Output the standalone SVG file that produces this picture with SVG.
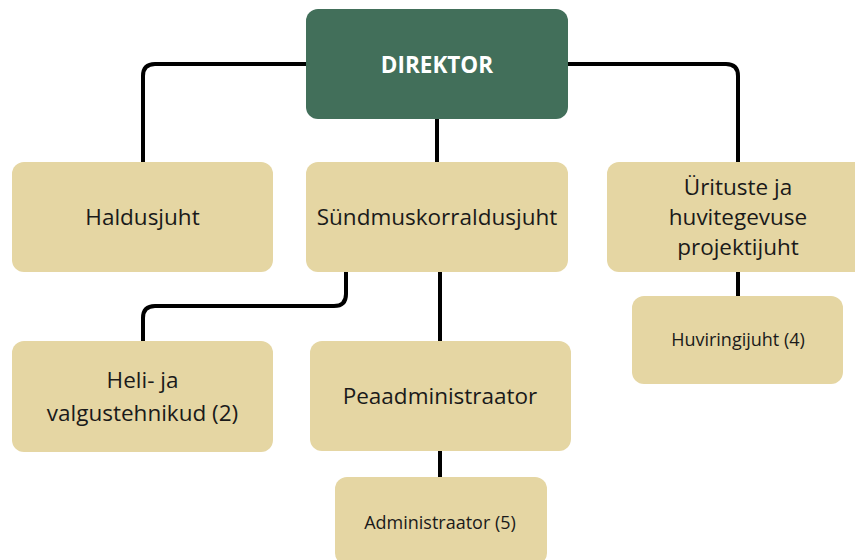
<svg xmlns="http://www.w3.org/2000/svg" width="855" height="560" viewBox="0 0 855 560">
<style>
.box{fill:#e5d6a3}
.top{fill:#426f5a}
.t{font-family:"Open Sans","Noto Sans",sans-serif;fill:#1a1a1a;text-anchor:middle}
.l{font-size:22.5px}
.s{font-size:18px}
.w{font-family:"Open Sans","Noto Sans",sans-serif;font-weight:bold;font-size:22.5px;fill:#ffffff;text-anchor:middle}
.c{fill:none;stroke:#000;stroke-width:4}
</style>
<rect width="855" height="560" fill="#ffffff"/>
<g id="connectors">
<path class="c" d="M306,64 H155 Q143,64 143,76 V162"/>
<path class="c" d="M568,64 H726 Q738,64 738,76 V162"/>
<path class="c" d="M437,119 V162"/>
<path class="c" d="M346,272 V294 Q346,306 334,306 H155 Q143,306 143,318 V341"/>
<path class="c" d="M440,272 V341"/>
<path class="c" d="M440,451 V477"/>
<path class="c" d="M738,272 V296"/>
</g>
<g id="direktor">
<rect class="top" x="306" y="9" width="262" height="110" rx="12"/>
<text class="w" x="437" y="73">DIREKTOR</text>
</g>
<g id="haldusjuht">
<rect class="box" x="12" y="162" width="261" height="110" rx="12"/>
<text class="t l" x="142.5" y="225">Haldusjuht</text>
</g>
<g id="sundmuskorraldusjuht">
<rect class="box" x="306" y="162" width="262" height="110" rx="12"/>
<text class="t l" x="437" y="225">Sündmuskorraldusjuht</text>
</g>
<g id="urituste">
<rect class="box" x="607" y="162" width="262" height="110" rx="12"/>
<text class="t l" x="738" y="195">Ürituste ja</text>
<text class="t l" x="738" y="225">huvitegevuse</text>
<text class="t l" x="738" y="255">projektijuht</text>
</g>
<g id="huviringijuht">
<rect class="box" x="632" y="296" width="211" height="88" rx="12"/>
<text class="t s" x="738" y="346">Huviringijuht (4)</text>
</g>
<g id="heli">
<rect class="box" x="12" y="341" width="261" height="111" rx="12"/>
<text class="t l" x="142.5" y="388">Heli- ja</text>
<text class="t l" x="142.5" y="421">valgustehnikud (2)</text>
</g>
<g id="peaadministraator">
<rect class="box" x="310" y="341" width="261" height="110" rx="12"/>
<text class="t l" x="440" y="404">Peaadministraator</text>
</g>
<g id="administraator">
<rect class="box" x="335" y="477" width="212" height="88" rx="12"/>
<text class="t s" x="440" y="529">Administraator (5)</text>
</g>
</svg>
